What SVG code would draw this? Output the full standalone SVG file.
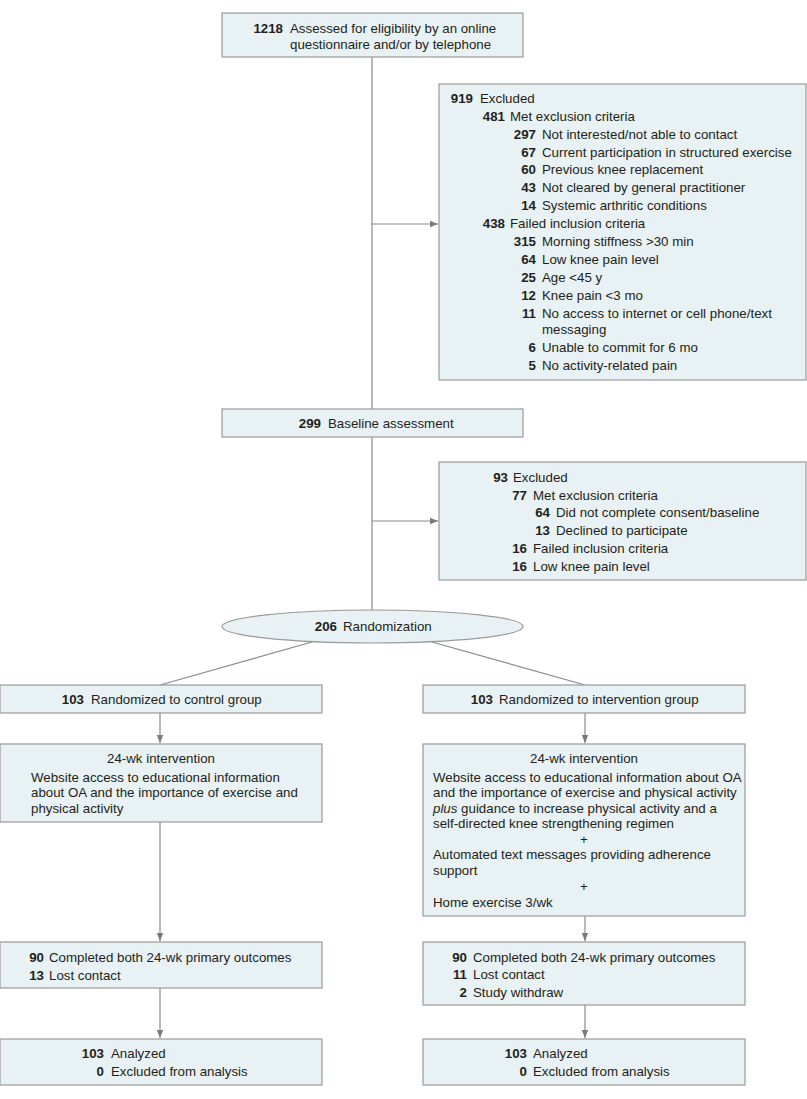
<svg xmlns="http://www.w3.org/2000/svg" width="807" height="1099" viewBox="0 0 807 1099">
<style>
.box{fill:#e8f1f3;stroke:#9a9a9a;stroke-width:1.2}
text{font-family:"Liberation Sans",Arial,sans-serif;font-size:13.3px;fill:#231f20}
.n{font-weight:bold;text-anchor:end}
.c{text-anchor:middle}
.ln{stroke:#8a8a8a;stroke-width:1.2;fill:none}
</style>
<defs>
<marker id="ah" markerUnits="userSpaceOnUse" markerWidth="8" markerHeight="8" viewBox="0 0 8 8" refX="8" refY="4" orient="auto">
<path d="M0,0.8 L8,4 L0,7.2 Z" fill="#7a7a7a"/>
</marker>
</defs>
<rect width="807" height="1099" fill="#fff"/>

<g id="connectors">
<line class="ln" x1="372" y1="57" x2="372" y2="409"/>
<line class="ln" x1="372" y1="224" x2="438" y2="224" marker-end="url(#ah)"/>
<line class="ln" x1="372" y1="437" x2="372" y2="610"/>
<line class="ln" x1="372" y1="521" x2="438" y2="521" marker-end="url(#ah)"/>
<line class="ln" x1="312" y1="642" x2="160" y2="685"/>
<line class="ln" x1="432" y1="642" x2="585" y2="685"/>
<line class="ln" x1="160" y1="713" x2="160" y2="743" marker-end="url(#ah)"/>
<line class="ln" x1="585" y1="713" x2="585" y2="743" marker-end="url(#ah)"/>
<line class="ln" x1="160" y1="822" x2="160" y2="941" marker-end="url(#ah)"/>
<line class="ln" x1="585" y1="916" x2="585" y2="941" marker-end="url(#ah)"/>
<line class="ln" x1="160" y1="988" x2="160" y2="1038" marker-end="url(#ah)"/>
<line class="ln" x1="585" y1="1005" x2="585" y2="1038" marker-end="url(#ah)"/>
</g>

<g id="assessed">
<rect class="box" x="222" y="13" width="301" height="44"/>
<text class="n" x="283" y="32.5">1218</text>
<text x="290" y="32.5">Assessed for eligibility by an online</text>
<text x="290" y="48.5">questionnaire and/or by telephone</text>
</g>

<g id="excluded1">
<rect class="box" x="439" y="84" width="367" height="296"/>
<text class="n" x="473" y="103">919</text><text x="480" y="103">Excluded</text>
<text class="n" x="505" y="121">481</text><text x="510" y="121">Met exclusion criteria</text>
<text class="n" x="536" y="138.7">297</text><text x="542" y="138.7">Not interested/not able to contact</text>
<text class="n" x="536" y="156.5">67</text><text x="542" y="156.5">Current participation in structured exercise</text>
<text class="n" x="536" y="174.4">60</text><text x="542" y="174.4">Previous knee replacement</text>
<text class="n" x="536" y="192.2">43</text><text x="542" y="192.2">Not cleared by general practitioner</text>
<text class="n" x="536" y="210">14</text><text x="542" y="210">Systemic arthritic conditions</text>
<text class="n" x="505" y="228">438</text><text x="510" y="228">Failed inclusion criteria</text>
<text class="n" x="536" y="246">315</text><text x="542" y="246">Morning stiffness &gt;30 min</text>
<text class="n" x="536" y="264">64</text><text x="542" y="264">Low knee pain level</text>
<text class="n" x="536" y="282">25</text><text x="542" y="282">Age &lt;45 y</text>
<text class="n" x="536" y="300">12</text><text x="542" y="300">Knee pain &lt;3 mo</text>
<text class="n" x="536" y="318">11</text><text x="542" y="318">No access to internet or cell phone/text</text>
<text x="542" y="334">messaging</text>
<text class="n" x="536" y="352">6</text><text x="542" y="352">Unable to commit for 6 mo</text>
<text class="n" x="536" y="370">5</text><text x="542" y="370">No activity-related pain</text>
</g>

<g id="baseline">
<rect class="box" x="222" y="409" width="301" height="28"/>
<text class="n" x="321" y="427.5">299</text>
<text x="328" y="427.5">Baseline assessment</text>
</g>

<g id="excluded2">
<rect class="box" x="439" y="462" width="367" height="118"/>
<text class="n" x="508" y="481.5">93</text><text x="513" y="481.5">Excluded</text>
<text class="n" x="527" y="499.5">77</text><text x="533" y="499.5">Met exclusion criteria</text>
<text class="n" x="550" y="517">64</text><text x="556" y="517">Did not complete consent/baseline</text>
<text class="n" x="550" y="535">13</text><text x="556" y="535">Declined to participate</text>
<text class="n" x="527" y="553">16</text><text x="533" y="553">Failed inclusion criteria</text>
<text class="n" x="527" y="571">16</text><text x="533" y="571">Low knee pain level</text>
</g>

<g id="randomization">
<ellipse class="box" cx="372.5" cy="626.5" rx="150.5" ry="16.5"/>
<text class="n" x="337" y="631">206</text>
<text x="343" y="631">Randomization</text>
</g>

<g id="control">
<rect class="box" x="0" y="685" width="322" height="28"/>
<text class="n" x="84" y="703.5">103</text>
<text x="91" y="703.5">Randomized to control group</text>
</g>

<g id="intervention">
<rect class="box" x="423" y="685" width="322" height="28"/>
<text class="n" x="493" y="703.5">103</text>
<text x="499" y="703.5">Randomized to intervention group</text>
</g>

<g id="control-intervention">
<rect class="box" x="0" y="744" width="322" height="78"/>
<text class="c" x="161" y="762.5">24-wk intervention</text>
<text x="31" y="781.5">Website access to educational information</text>
<text x="31" y="797">about OA and the importance of exercise and</text>
<text x="31" y="812.5">physical activity</text>
</g>

<g id="intervention-intervention">
<rect class="box" x="423" y="744" width="322" height="172"/>
<text class="c" x="584" y="762.5">24-wk intervention</text>
<text x="433" y="781.5">Website access to educational information about OA</text>
<text x="433" y="797">and the importance of exercise and physical activity</text>
<text x="433" y="812.5"><tspan font-style="italic">plus</tspan> guidance to increase physical activity and a</text>
<text x="433" y="828">self-directed knee strengthening regimen</text>
<text class="c" x="584" y="843.5">+</text>
<text x="433" y="859">Automated text messages providing adherence</text>
<text x="433" y="875">support</text>
<text class="c" x="584" y="890.5">+</text>
<text x="433" y="906.5">Home exercise 3/wk</text>
</g>

<g id="control-outcomes">
<rect class="box" x="0" y="942" width="322" height="46"/>
<text class="n" x="44" y="961.5">90</text><text x="49" y="961.5">Completed both 24-wk primary outcomes</text>
<text class="n" x="44" y="979.5">13</text><text x="49" y="979.5">Lost contact</text>
</g>

<g id="intervention-outcomes">
<rect class="box" x="423" y="942" width="322" height="63"/>
<text class="n" x="467" y="961.5">90</text><text x="473" y="961.5">Completed both 24-wk primary outcomes</text>
<text class="n" x="467" y="979">11</text><text x="473" y="979">Lost contact</text>
<text class="n" x="467" y="997">2</text><text x="473" y="997">Study withdraw</text>
</g>

<g id="control-analyzed">
<rect class="box" x="0" y="1039" width="322" height="46"/>
<text class="n" x="104" y="1057.5">103</text><text x="111" y="1057.5">Analyzed</text>
<text class="n" x="104" y="1075.5">0</text><text x="111" y="1075.5">Excluded from analysis</text>
</g>

<g id="intervention-analyzed">
<rect class="box" x="423" y="1039" width="322" height="46"/>
<text class="n" x="527" y="1057.5">103</text><text x="533" y="1057.5">Analyzed</text>
<text class="n" x="527" y="1075.5">0</text><text x="533" y="1075.5">Excluded from analysis</text>
</g>
</svg>
